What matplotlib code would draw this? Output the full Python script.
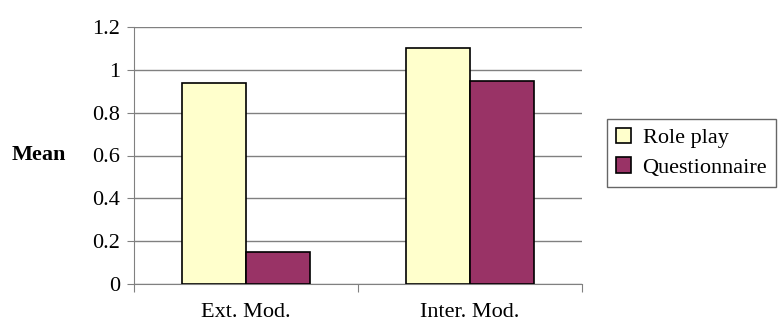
import numpy as np
import matplotlib.pyplot as plt

plt.rcParams['font.family'] = ['Liberation Serif', 'DejaVu Serif']

categories = ['Ext. Mod.', 'Inter. Mod.']
role_play = [0.938, 1.104]
questionnaire = [0.148, 0.949]

fig = plt.figure(figsize=(7.78, 3.22), dpi=100)
ax = fig.add_axes([134 / 778, 1 - 284 / 322, 448 / 778, 257 / 322])

x = np.arange(len(categories))
w = 0.285
ax.bar(x - w / 2, role_play, w, color='#ffffcc', edgecolor='black', linewidth=1.2,
       label='Role play', zorder=3)
ax.bar(x + w / 2, questionnaire, w, color='#993366', edgecolor='black', linewidth=1.2,
       label='Questionnaire', zorder=3)

ax.set_xlim(-0.5, 1.5)
ax.set_ylim(0, 1.2)
ax.set_yticks(np.arange(0, 1.21, 0.2))
ax.set_yticklabels(['0', '0.2', '0.4', '0.6', '0.8', '1', '1.2'], fontsize=16)
ax.yaxis.grid(True, color='#808080', linewidth=1, zorder=0)

# category labels centred between the boundary ticks
ax.set_xticks([-0.5, 0.5, 1.5])
ax.set_xticklabels([])
ax.set_xticks(x, minor=True)
ax.set_xticklabels(categories, minor=True, fontsize=16)
ax.tick_params(axis='x', which='minor', length=0, pad=14)
ax.tick_params(axis='x', which='major', length=6, color='#808080', direction='out')
ax.tick_params(axis='y', length=5, color='#808080', pad=5)

for s in ['top', 'right']:
    ax.spines[s].set_visible(False)
ax.spines['left'].set_color('#808080')
ax.spines['bottom'].set_color('#808080')

fig.text(12 / 778, 1 - 155 / 322, 'Mean', fontsize=16, fontweight='bold', va='center')

leg = fig.legend(loc='upper left', bbox_to_anchor=(607 / 778, 1 - 119 / 322),
                 fontsize=16, frameon=True, fancybox=False, edgecolor='#404040',
                 handlelength=0.7, handleheight=0.7, handletextpad=0.5,
                 borderpad=0.4, labelspacing=0.4, borderaxespad=0)
leg.get_frame().set_linewidth(1)

fig.savefig('out.png', dpi=100)
